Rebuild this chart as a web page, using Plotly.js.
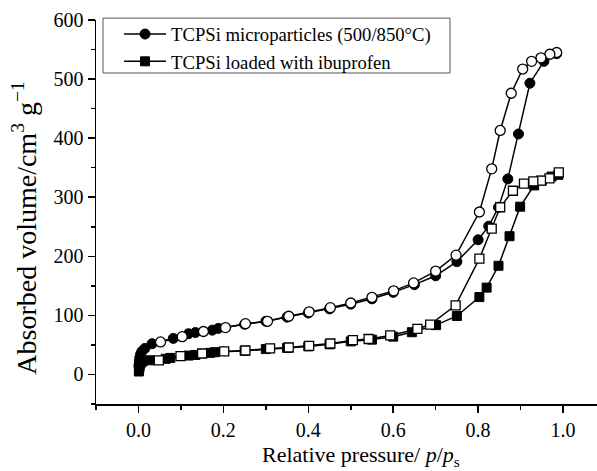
<!DOCTYPE html>
<html>
<head>
<meta charset="utf-8">
<script src="https://cdn.plot.ly/plotly-3.0.1.min.js"></script>
<style>html,body{margin:0;padding:0;background:#fff;}#chart{width:597px;height:471px;}</style>
</head>
<body>
<div id="chart"></div>
<script>
// TCPSi microparticles (500/850°C) - adsorption (filled circles)
const circAdsX = [0.001,0.002,0.003,0.005,0.008,0.015,0.032,0.082,0.118,0.134,0.174,0.188,0.25,0.30,0.35,0.40,0.45,0.50,0.55,0.60,0.65,0.70,0.75,0.80,0.825,0.848,0.87,0.895,0.922,0.955,0.985];
const circAdsY = [15,22,28,34,39,44,52,61,69,71,75,78,85,90,97,104,111,119,128,139,152,167,191,228,251,283,331,407,493,530,543];
// desorption (open circles)
const circDesX = [0.985,0.969,0.948,0.926,0.905,0.878,0.852,0.832,0.803,0.748,0.70,0.648,0.601,0.55,0.50,0.452,0.402,0.354,0.304,0.252,0.205,0.153,0.103,0.052];
const circDesY = [545,542,536,530,517,476,413,348,275,202,175,155,141.5,130.6,121,113,106,98.5,90,86,79.4,72.7,64,55];
// TCPSi loaded with ibuprofen - adsorption (filled squares)
const sqAdsX = [0.001,0.002,0.003,0.005,0.01,0.028,0.064,0.075,0.118,0.134,0.169,0.18,0.25,0.30,0.35,0.40,0.45,0.50,0.55,0.60,0.644,0.701,0.75,0.803,0.82,0.848,0.874,0.899,0.932,0.95,0.973,0.989];
const sqAdsY = [5,10,15,19,22,24,26.5,28,32,33,36.6,37.7,40,43,45,47.5,51,56,59,64,71.5,83.5,99,131,147,184,234,284,320,328,335,338];
// desorption (open squares)
const sqDesX = [0.99,0.968,0.948,0.93,0.908,0.882,0.852,0.832,0.803,0.747,0.687,0.657,0.593,0.542,0.505,0.452,0.402,0.354,0.31,0.252,0.202,0.15,0.099,0.048];
const sqDesY = [342,332,328,327,323,311,283,247,196,117,84.5,77,66,60,58,52.4,48.4,45.6,44,40.6,39,35.5,31,24];

const seriesNames = ['TCPSi microparticles (500/850°C)','TCPSi loaded with ibuprofen'];
const xTitle = 'Relative pressure/ <i>p</i>/<i>p</i><sub>s</sub>';
const yTitle = 'Absorbed volume/cm<sup>3</sup> g<sup>−1</sup>';

const lineStyle = {color:'#000', width:1.5};
const traces = [
  {x:circAdsX, y:circAdsY, name:seriesNames[0], mode:'lines+markers', line:lineStyle,
   marker:{symbol:'circle', size:10, color:'#000', line:{color:'#000', width:1}}},
  {x:sqAdsX, y:sqAdsY, name:seriesNames[1], mode:'lines+markers', line:lineStyle,
   marker:{symbol:'square', size:9, color:'#000', line:{color:'#000', width:1}}},
  {x:circDesX, y:circDesY, mode:'lines+markers', showlegend:false, line:lineStyle,
   marker:{symbol:'circle', size:10, color:'#fff', line:{color:'#000', width:1.3}}},
  {x:sqDesX, y:sqDesY, mode:'lines+markers', showlegend:false, line:lineStyle,
   marker:{symbol:'square', size:9, color:'#fff', line:{color:'#000', width:1.3}}}
];

const font = 'Liberation Serif';
const layout = {
  width:597, height:471,
  margin:{l:96, r:0, t:20, b:67},
  paper_bgcolor:'#fff', plot_bgcolor:'#fff',
  font:{family:font, color:'#000', size:19},
  showlegend:true,
  legend:{x:0.046, y:1.012, xanchor:'left', yanchor:'top', traceorder:'normal', itemwidth:42,
    borderwidth:0, bgcolor:'rgba(0,0,0,0)', font:{family:font, size:18.7, color:'#000'}, tracegroupgap:0},
  shapes:[{type:'rect', xref:'paper', yref:'paper', x0:0.014, x1:0.7066, y0:0.862, y1:1.005,
    line:{color:'#555', width:1}, fillcolor:'rgba(0,0,0,0)', layer:'below'}],
  annotations:[
    {text:xTitle, xref:'paper', yref:'paper', x:0.529, y:-0.135, xanchor:'center', yanchor:'middle',
     showarrow:false, font:{family:font, size:22, color:'#000'}},
    {text:yTitle, xref:'paper', yref:'paper', x:-0.143, y:0.46, xanchor:'center', yanchor:'middle',
     textangle:-90, showarrow:false, font:{family:font, size:28, color:'#000'}}
  ],
  xaxis:{range:[-0.1,1.08], dtick:0.2, tick0:0, tickformat:'.1f', showgrid:false, zeroline:false,
    showline:true, linecolor:'#000', linewidth:1.5, ticks:'outside', ticklen:7, tickwidth:1.5, tickcolor:'#000',
    minor:{dtick:0.1, ticks:'outside', ticklen:4, tickwidth:1.5, tickcolor:'#000'},
    tickfont:{family:font, size:20, color:'#000'}},
  yaxis:{range:[-50,600], dtick:100, showgrid:false, zeroline:false,
    showline:true, linecolor:'#000', linewidth:1.5, ticks:'outside', ticklen:7, tickwidth:1.5, tickcolor:'#000',
    minor:{dtick:50, ticks:'outside', ticklen:4, tickwidth:1.5, tickcolor:'#000'},
    tickfont:{family:font, size:20, color:'#000'}}
};
Plotly.newPlot('chart', traces, layout, {displayModeBar:false, staticPlot:true});
</script>
</body>
</html>
